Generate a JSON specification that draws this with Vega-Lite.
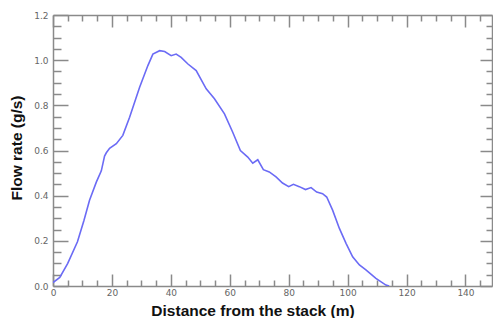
{
  "$schema": "https://vega.github.io/schema/vega-lite/v6.json",
  "autosize": {"type": "none"},
  "padding": {"left": 53, "top": 15, "right": 1, "bottom": 32},
  "width": 439,
  "height": 271,
  "background": "white",
  "config": {
    "view": {"stroke": null},
    "axis": {
      "grid": false,
      "domainColor": "#8a8a8a",
      "domainWidth": 1.5,
      "tickColor": "#8a8a8a",
      "tickWidth": 1.5,
      "labelFont": "DejaVu Sans",
      "labelFontSize": 9,
      "labelColor": "#666666",
      "titleFont": "Liberation Sans",
      "titleFontSize": 15.5,
      "titleFontWeight": "bold",
      "titleColor": "#111111"
    }
  },
  "data": {
    "values": [
      {"d": 0, "f": 0.015},
      {"d": 2.3, "f": 0.038},
      {"d": 5.0, "f": 0.1},
      {"d": 8.3, "f": 0.196},
      {"d": 10.5, "f": 0.29},
      {"d": 12.4, "f": 0.38},
      {"d": 14.7, "f": 0.46},
      {"d": 16.4, "f": 0.51},
      {"d": 17.5, "f": 0.575},
      {"d": 18.1, "f": 0.59},
      {"d": 19.2, "f": 0.61},
      {"d": 21.5, "f": 0.63},
      {"d": 23.7, "f": 0.667},
      {"d": 26.0, "f": 0.747},
      {"d": 29.4, "f": 0.88},
      {"d": 32.2, "f": 0.976},
      {"d": 33.9, "f": 1.027},
      {"d": 36.2, "f": 1.042},
      {"d": 37.9, "f": 1.038},
      {"d": 40.1, "f": 1.02},
      {"d": 41.8, "f": 1.027},
      {"d": 43.5, "f": 1.012},
      {"d": 45.8, "f": 0.983},
      {"d": 48.6, "f": 0.954},
      {"d": 52.0, "f": 0.873},
      {"d": 54.8, "f": 0.829},
      {"d": 58.2, "f": 0.762},
      {"d": 61.0, "f": 0.681},
      {"d": 63.6, "f": 0.6},
      {"d": 66.1, "f": 0.571},
      {"d": 67.8, "f": 0.544},
      {"d": 69.5, "f": 0.559},
      {"d": 71.4, "f": 0.515},
      {"d": 73.4, "f": 0.505},
      {"d": 75.7, "f": 0.483},
      {"d": 77.9, "f": 0.456},
      {"d": 80.0, "f": 0.44},
      {"d": 81.6, "f": 0.45},
      {"d": 83.6, "f": 0.44},
      {"d": 85.7, "f": 0.427},
      {"d": 87.6, "f": 0.436},
      {"d": 89.5, "f": 0.416},
      {"d": 91.5, "f": 0.409},
      {"d": 92.9, "f": 0.394},
      {"d": 94.9, "f": 0.336},
      {"d": 97.2, "f": 0.255},
      {"d": 99.5, "f": 0.188},
      {"d": 101.7, "f": 0.129},
      {"d": 104.0, "f": 0.093},
      {"d": 106.2, "f": 0.071},
      {"d": 109.6, "f": 0.034},
      {"d": 113.0, "f": 0.004},
      {"d": 114.1, "f": 0.0}
    ]
  },
  "layer": [
    {
      "mark": {"type": "line", "color": "#6b6bf5", "strokeWidth": 1.6, "clip": true},
      "encoding": {
        "x": {
          "field": "d", "type": "quantitative",
          "scale": {"domain": [0, 149], "nice": false, "zero": false},
          "axis": {
            "orient": "bottom",
            "title": "Distance from the stack (m)",
            "values": [0,5,10,15,20,25,30,35,40,45,50,55,60,65,70,75,80,85,90,95,100,105,110,115,120,125,130,135,140,145],
            "tickSize": {"condition": {"test": "datum.value % 20 === 0", "value": -12}, "value": -6},
            "labelPadding": {"condition": {"test": "datum.value % 20 === 0", "value": 14}, "value": 8},
            "labelExpr": "datum.value % 20 === 0 ? datum.label : ''",
            "labelFlush": false,
            "labelOverlap": false,
            "titleX": 199.5,
            "titleY": 24,
            "titleBaseline": "middle",
            "titleAlign": "center"
          }
        },
        "y": {
          "field": "f", "type": "quantitative",
          "scale": {"domain": [0, 1.2], "nice": false},
          "axis": {
            "orient": "left",
            "title": "Flow rate (g/s)",
            "values": [0,0.05,0.1,0.15,0.2,0.25,0.3,0.35,0.4,0.45,0.5,0.55,0.6,0.65,0.7,0.75,0.8,0.85,0.9,0.95,1.0,1.05,1.1,1.15,1.2],
            "format": ".1f",
            "tickSize": {"condition": {"test": "abs(datum.value*10 - round(datum.value*10)) < 0.001 && round(datum.value*10) % 2 === 0", "value": -15}, "value": -8},
            "labelPadding": {"condition": {"test": "abs(datum.value*10 - round(datum.value*10)) < 0.001 && round(datum.value*10) % 2 === 0", "value": 20}, "value": 13},
            "labelExpr": "abs(datum.value*10 - round(datum.value*10)) < 0.001 && round(datum.value*10) % 2 === 0 ? datum.label : ''",
            "labelFlush": false,
            "labelOverlap": false,
            "titleX": -37,
            "titleY": 132.5,
            "titleAngle": -90,
            "titleBaseline": "middle",
            "titleAlign": "center"
          }
        }
      }
    },
    {
      "mark": {"type": "line", "opacity": 0},
      "encoding": {
        "x": {
          "field": "d", "type": "quantitative",
          "scale": {"domain": [0, 149], "nice": false, "zero": false},
          "axis": {
            "orient": "top",
            "title": null,
            "labels": false,
            "values": [0,5,10,15,20,25,30,35,40,45,50,55,60,65,70,75,80,85,90,95,100,105,110,115,120,125,130,135,140,145],
            "tickSize": {"condition": {"test": "datum.value % 20 === 0", "value": -12}, "value": -6}
          }
        },
        "y": {
          "field": "f", "type": "quantitative",
          "scale": {"domain": [0, 1.2], "nice": false},
          "axis": {
            "orient": "right",
            "title": null,
            "labels": false,
            "values": [0,0.05,0.1,0.15,0.2,0.25,0.3,0.35,0.4,0.45,0.5,0.55,0.6,0.65,0.7,0.75,0.8,0.85,0.9,0.95,1.0,1.05,1.1,1.15,1.2],
            "tickSize": {"condition": {"test": "abs(datum.value*10 - round(datum.value*10)) < 0.001 && round(datum.value*10) % 2 === 0", "value": -12}, "value": -6}
          }
        }
      }
    }
  ],
  "resolve": {"axis": {"x": "independent", "y": "independent"}}
}
